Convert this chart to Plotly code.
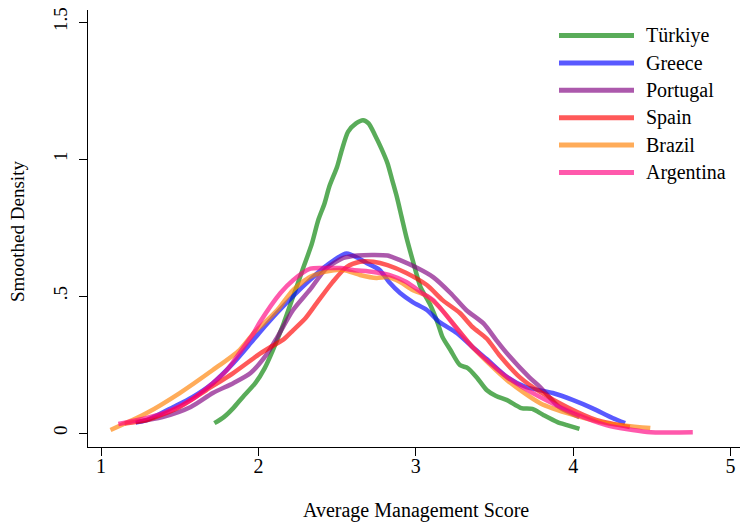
import plotly.graph_objects as go

# ---- data ----
countries = ["Türkiye", "Greece", "Portugal", "Spain", "Brazil", "Argentina"]
colors = ["rgba(0,128,0,0.65)", "rgba(0,0,255,0.65)", "rgba(128,0,128,0.65)",
          "rgba(255,0,0,0.65)", "rgba(255,128,0,0.65)", "rgba(255,0,128,0.65)"]

turkiye_x = [1.72, 1.78, 1.84, 1.90, 1.98, 2.04, 2.09, 2.16, 2.22, 2.28, 2.34, 2.38, 2.42, 2.45, 2.50,
             2.53, 2.57, 2.62, 2.665, 2.70, 2.74, 2.78, 2.82, 2.85, 2.88, 2.91, 2.94, 2.98,
             3.03, 3.09, 3.14, 3.17, 3.22, 3.28, 3.33, 3.39, 3.45, 3.51, 3.58, 3.67, 3.74, 3.81, 3.90,
             3.96, 4.04]
turkiye_y = [0.036, 0.058, 0.091, 0.131, 0.182, 0.237, 0.300, 0.400, 0.497, 0.595, 0.692, 0.777, 0.838,
             0.899, 0.972, 1.033, 1.100, 1.130, 1.142, 1.130, 1.088, 1.040, 0.985, 0.923,
             0.861, 0.788, 0.715, 0.631, 0.533, 0.470, 0.400, 0.350, 0.303, 0.248, 0.237, 0.201, 0.157,
             0.135, 0.120, 0.091, 0.088, 0.066, 0.040, 0.029, 0.015]

greece_x = [1.22, 1.29, 1.46, 1.58, 1.71, 1.84, 1.95, 2.01, 2.12, 2.22, 2.33, 2.43, 2.56, 2.69, 2.77,
            2.83, 2.90, 2.98, 3.07, 3.15, 3.26, 3.36, 3.45, 3.58, 3.70, 3.87, 4.00, 4.12, 4.25, 4.33]
greece_y = [0.038, 0.047, 0.095, 0.131, 0.182, 0.255, 0.328, 0.369, 0.440, 0.500, 0.560, 0.610, 0.655,
            0.620, 0.595, 0.551, 0.511, 0.478, 0.449, 0.405, 0.365, 0.314, 0.270, 0.204, 0.168, 0.146,
            0.120, 0.091, 0.055, 0.036]

portugal_x = [1.22, 1.39, 1.57, 1.71, 1.84, 1.95, 2.05, 2.12, 2.22, 2.33, 2.43, 2.54, 2.63, 2.72,
              2.82, 2.90, 3.01, 3.11, 3.22, 3.32, 3.43, 3.51, 3.58, 3.72, 3.79, 3.91, 4.04]
portugal_y = [0.040, 0.058, 0.095, 0.146, 0.182, 0.219, 0.285, 0.350, 0.449, 0.525, 0.600, 0.639,
              0.648, 0.650, 0.648, 0.631, 0.602, 0.569, 0.511, 0.449, 0.400, 0.340, 0.290, 0.204, 0.168,
              0.095, 0.058]

spain_x = [1.15, 1.29, 1.50, 1.67, 1.84, 2.01, 2.08, 2.16, 2.22, 2.30, 2.37, 2.47, 2.56, 2.645, 2.73,
           2.82, 2.94, 3.07, 3.17, 3.28, 3.36, 3.45, 3.53, 3.66, 3.79, 3.96, 4.15, 4.36]
spain_y = [0.035, 0.047, 0.095, 0.157, 0.219, 0.290, 0.315, 0.342, 0.375, 0.420, 0.474, 0.550, 0.606,
           0.625, 0.625, 0.613, 0.584, 0.540, 0.485, 0.438, 0.387, 0.345, 0.285, 0.204, 0.150, 0.095,
           0.047, 0.022]

brazil_x = [1.06, 1.29, 1.50, 1.71, 1.88, 1.97, 2.01, 2.12, 2.22, 2.33, 2.43, 2.54, 2.645, 2.75, 2.82,
            2.90, 2.98, 3.07, 3.15, 3.36, 3.58, 3.79, 4.00, 4.21, 4.49]
brazil_y = [0.011, 0.073, 0.146, 0.230, 0.303, 0.365, 0.387, 0.449, 0.522, 0.570, 0.589, 0.595, 0.577,
            0.566, 0.569, 0.551, 0.522, 0.500, 0.460, 0.314, 0.193, 0.109, 0.066, 0.036, 0.018]

argentina_x = [1.11, 1.29, 1.42, 1.57, 1.71, 1.80, 1.88, 1.97, 2.01, 2.14, 2.22, 2.33, 2.44, 2.52, 2.60,
               2.73, 2.83, 2.94, 3.04, 3.11, 3.36, 3.58, 3.79, 4.00, 4.21, 4.47, 4.76]
argentina_y = [0.033, 0.055, 0.077, 0.120, 0.182, 0.230, 0.292, 0.365, 0.405, 0.511, 0.558, 0.600, 0.602,
               0.602, 0.595, 0.588, 0.577, 0.551, 0.511, 0.485, 0.314, 0.204, 0.131, 0.073, 0.029, 0.004,
               0.003]

xs = [turkiye_x, greece_x, portugal_x, spain_x, brazil_x, argentina_x]
ys = [turkiye_y, greece_y, portugal_y, spain_y, brazil_y, argentina_y]

x_ticks = [1, 2, 3, 4, 5]
y_ticks = [0, 0.5, 1, 1.5]
y_ticktext = ["0", ".5", "1", "1.5"]

FONT = "Liberation Serif, Times New Roman, serif"

fig = go.Figure()
for name, c, x, y in zip(countries, colors, xs, ys):
    fig.add_trace(go.Scatter(x=x, y=y, mode="lines", name=name, showlegend=False,
                             line=dict(color=c, width=4.5, shape="spline", smoothing=0.7)))

# manual legend (Stata-like, long line keys)
W, H = 740, 527
ml, mr, mt, mb = 88, 0, 10, 80
pw, ph = W - ml - mr, H - mt - mb
def px_to_paper_x(px):
    return (px - ml) / pw
def py_to_paper_y(py):
    return (H - mb - py) / ph

shapes = []
annotations = []
for i, (name, c) in enumerate(zip(countries, colors)):
    yy = py_to_paper_y(35.5 + 27.4 * i)
    shapes.append(dict(type="line", xref="paper", yref="paper",
                       x0=px_to_paper_x(559), x1=px_to_paper_x(634), y0=yy, y1=yy,
                       line=dict(color=c, width=5)))
    annotations.append(dict(xref="paper", yref="paper", x=px_to_paper_x(644), y=yy,
                            text=name, showarrow=False, xanchor="left", yanchor="middle",
                            font=dict(family=FONT, size=20, color="black")))

annotations.append(dict(xref="paper", yref="paper", x=px_to_paper_x(416), y=py_to_paper_y(510),
                        text="Average Management Score", showarrow=False,
                        xanchor="center", yanchor="middle",
                        font=dict(family=FONT, size=20, color="black")))
annotations.append(dict(xref="paper", yref="paper", x=px_to_paper_x(18), y=py_to_paper_y(232),
                        text="Smoothed Density", showarrow=False, textangle=-90,
                        xanchor="center", yanchor="middle",
                        font=dict(family=FONT, size=19, color="black")))

fig.update_layout(
    width=W, height=H,
    margin=dict(l=ml, r=mr, t=mt, b=mb, autoexpand=False),
    paper_bgcolor="white", plot_bgcolor="white",
    font=dict(family=FONT, size=19, color="black"),
    shapes=shapes, annotations=annotations,
    xaxis=dict(range=[0.917, 5.06], tickvals=x_ticks, showgrid=False, zeroline=False,
               automargin=False, ticklabelstandoff=-7,
               showline=True, linecolor="black", linewidth=1,
               ticks="outside", ticklen=8, tickcolor="black",
               tickfont=dict(family=FONT, size=20, color="black")),
    yaxis=dict(range=[-0.051, 1.544], tickvals=y_ticks, ticktext=y_ticktext,
               showgrid=False, zeroline=False, tickangle=-90, automargin=False,
               ticklabelstandoff=4,
               showline=True, linecolor="black", linewidth=1,
               ticks="outside", ticklen=8, tickcolor="black",
               tickfont=dict(family=FONT, size=19, color="black")),
)

fig.write_html("out.html", config={"displayModeBar": False},
               post_script="document.body.style.margin='0';document.body.style.overflow='hidden';")
